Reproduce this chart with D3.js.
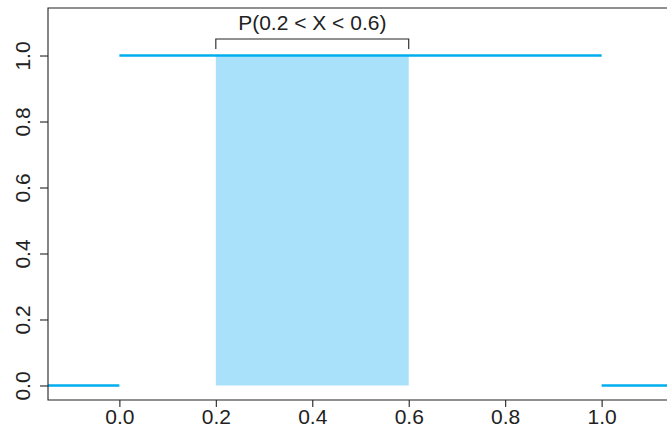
<!DOCTYPE html>
<html>
<head>
<meta charset="utf-8">
<script src="https://cdn.jsdelivr.net/npm/d3@7"></script>
<style>
  html, body { margin: 0; padding: 0; background: #fff; overflow: hidden; }
  svg { display: block; font-family: "Liberation Sans", Arial, Helvetica, sans-serif; }
</style>
</head>
<body>
<svg id="chart" width="667" height="427"></svg>
<script>
// Uniform(0,1) density, with the shaded probability region P(0.2 < X < 0.6)
const xTicks = [0.0, 0.2, 0.4, 0.6, 0.8, 1.0];
const yTicks = [0.0, 0.2, 0.4, 0.6, 0.8, 1.0];
const xLimits = [-0.148, 1.148];
const yLimits = [-0.044, 1.144];
// density pieces: [x start, x end, density]
const densityPieces = [
  [-0.148, 0, 0],
  [0, 1, 1],
  [1, 1.148, 0]
];
const shadeFrom = 0.2, shadeTo = 0.6, shadeHeight = 1;
const bracketTop = 1.05, bracketFoot = 1.02;
const labelText = "P(0.2 < X < 0.6)";

const svg = d3.select("#chart");
const plot = { left: 48, right: 673, top: 8, bottom: 400 };

const x = d3.scaleLinear().domain(xLimits).range([plot.left, plot.right]);
const y = d3.scaleLinear().domain(yLimits).range([plot.bottom, plot.top]);

const lineColor = "#00aeef";
const fillColor = "#a8e1f9";
const inkColor = "#222";
const fontSize = 21;

// shaded area
svg.append("rect")
  .attr("x", x(shadeFrom))
  .attr("y", y(shadeHeight))
  .attr("width", x(shadeTo) - x(shadeFrom))
  .attr("height", y(0) - y(shadeHeight))
  .attr("fill", fillColor);

// density segments
svg.selectAll("line.density")
  .data(densityPieces)
  .enter().append("line")
  .attr("class", "density")
  .attr("x1", d => x(d[0]))
  .attr("x2", d => x(d[1]))
  .attr("y1", d => y(d[2]))
  .attr("y2", d => y(d[2]))
  .attr("stroke", lineColor)
  .attr("stroke-width", 2.6);

// bracket over the shaded interval
const bracket = d3.path();
bracket.moveTo(x(shadeFrom), y(bracketFoot));
bracket.lineTo(x(shadeFrom), y(bracketTop));
bracket.lineTo(x(shadeTo), y(bracketTop));
bracket.lineTo(x(shadeTo), y(bracketFoot));
svg.append("path")
  .attr("d", bracket.toString())
  .attr("fill", "none")
  .attr("stroke", inkColor)
  .attr("stroke-width", 1.1);

svg.append("text")
  .attr("x", (x(shadeFrom) + x(shadeTo)) / 2)
  .attr("y", y(bracketTop) - 9)
  .attr("text-anchor", "middle")
  .attr("font-size", fontSize)
  .attr("fill", inkColor)
  .text(labelText);

// frame
const frame = d3.path();
frame.moveTo(plot.right, plot.top);
frame.lineTo(plot.left, plot.top);
frame.lineTo(plot.left, plot.bottom);
frame.lineTo(plot.right, plot.bottom);
svg.append("path")
  .attr("d", frame.toString())
  .attr("fill", "none")
  .attr("stroke", inkColor)
  .attr("stroke-width", 1.1);

// x axis
const xAxis = svg.append("g")
  .attr("transform", `translate(0,${plot.bottom})`)
  .call(d3.axisBottom(x).tickValues(xTicks).tickFormat(d3.format(".1f"))
    .tickSize(7).tickPadding(2));
xAxis.select(".domain").remove();
xAxis.selectAll("line").attr("stroke", inkColor).attr("stroke-width", 1.1);
xAxis.selectAll("text")
  .attr("font-size", fontSize)
  .attr("font-family", "Liberation Sans, Arial, sans-serif")
  .attr("fill", inkColor);

// y axis with rotated labels
const yAxis = svg.append("g")
  .attr("transform", `translate(${plot.left},0)`)
  .call(d3.axisLeft(y).tickValues(yTicks).tickFormat(d3.format(".1f"))
    .tickSize(8));
yAxis.select(".domain").remove();
yAxis.selectAll("line").attr("stroke", inkColor).attr("stroke-width", 1.1);
yAxis.selectAll("text")
  .attr("font-size", fontSize)
  .attr("font-family", "Liberation Sans, Arial, sans-serif")
  .attr("fill", inkColor)
  .attr("x", null)
  .attr("dy", null)
  .attr("text-anchor", "middle")
  .attr("transform", "translate(-18,0) rotate(-90)");
</script>
</body>
</html>
